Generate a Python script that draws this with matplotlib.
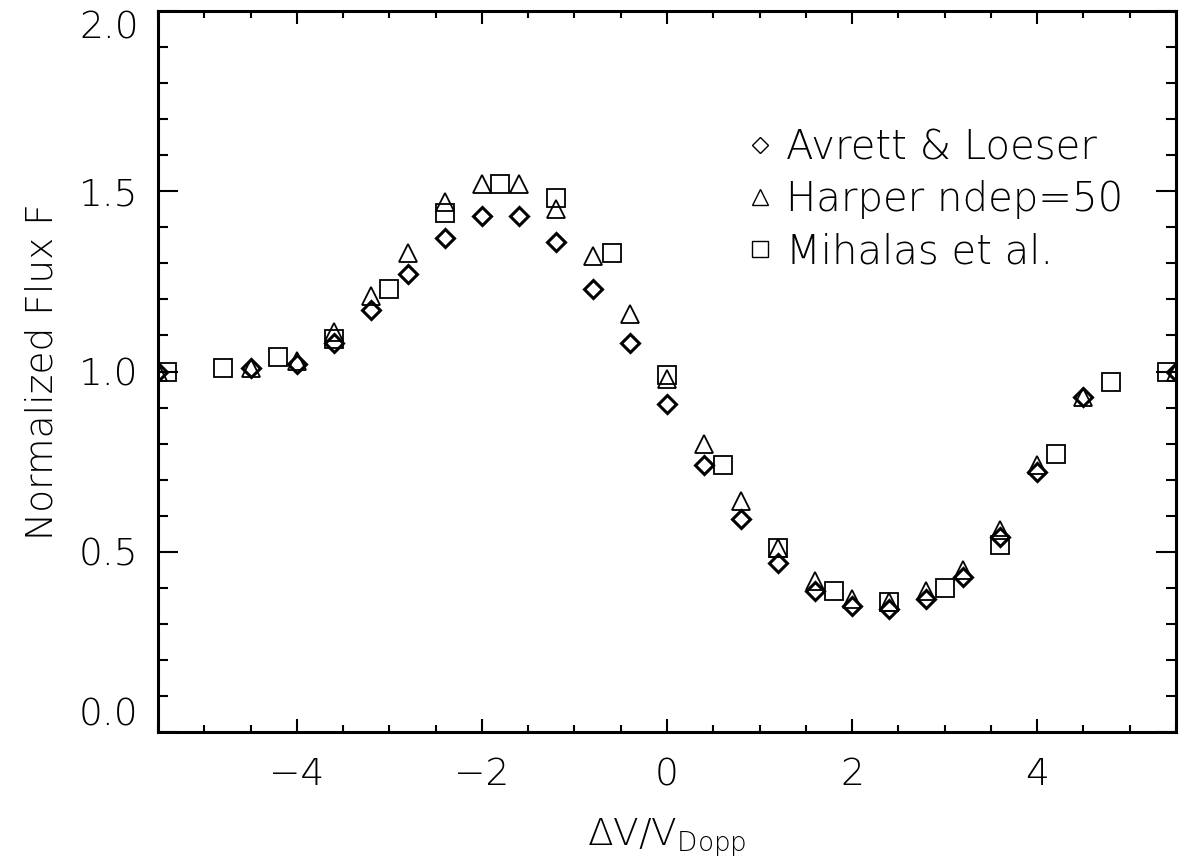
import matplotlib.pyplot as plt
from matplotlib.lines import Line2D
from matplotlib.ticker import MultipleLocator, FormatStrFormatter

plt.rcParams['font.family'] = ['DejaVu Sans']
plt.rcParams['font.weight'] = 'light'
plt.rcParams['axes.labelweight'] = 'light'
plt.rcParams['mathtext.fontset'] = 'custom'
plt.rcParams['mathtext.rm'] = 'DejaVu Sans:light'
plt.rcParams['mathtext.it'] = 'DejaVu Sans:light'

# Avrett & Loeser (diamonds)
x_al = [-5.5, -4.5, -4.0, -3.6, -3.2, -2.8, -2.4, -2.0, -1.6, -1.2, -0.8, -0.4, 0.0,
        0.4, 0.8, 1.2, 1.6, 2.0, 2.4, 2.8, 3.2, 3.6, 4.0, 4.5, 5.5]
y_al = [1.00, 1.01, 1.02, 1.08, 1.17, 1.27, 1.37, 1.43, 1.43, 1.36, 1.23, 1.08, 0.91,
        0.74, 0.59, 0.47, 0.39, 0.35, 0.34, 0.37, 0.43, 0.54, 0.72, 0.93, 1.00]

# Harper ndep=50 (triangles)
x_h = [-5.5, -4.5, -4.0, -3.6, -3.2, -2.8, -2.4, -2.0, -1.6, -1.2, -0.8, -0.4, 0.0,
       0.4, 0.8, 1.2, 1.6, 2.0, 2.4, 2.8, 3.2, 3.6, 4.0, 4.5, 5.5]
y_h = [1.00, 1.01, 1.03, 1.11, 1.21, 1.33, 1.47, 1.52, 1.52, 1.45, 1.32, 1.16, 0.98,
       0.80, 0.64, 0.51, 0.42, 0.37, 0.36, 0.39, 0.45, 0.56, 0.74, 0.93, 1.00]

# Mihalas et al. (squares)
x_m = [-5.4, -4.8, -4.2, -3.6, -3.0, -2.4, -1.8, -1.2, -0.6, 0.0, 0.6, 1.2, 1.8,
       2.4, 3.0, 3.6, 4.2, 4.8, 5.4]
y_m = [1.00, 1.01, 1.04, 1.09, 1.23, 1.44, 1.52, 1.48, 1.33, 0.99, 0.74, 0.51, 0.39,
       0.36, 0.40, 0.52, 0.77, 0.97, 1.00]

labels = ['Avrett & Loeser', 'Harper ndep=50', 'Mihalas et al.']
yticks = [0.0, 0.5, 1.0, 1.5, 2.0]
xticks = [-4, -2, 0, 2, 4]

fig = plt.figure(figsize=(11.89, 8.66), dpi=100)
ax = fig.add_axes([0.1329, 0.1547, 0.8562, 0.8326])

ax.plot(x_al, y_al, ls='none', marker='D', ms=9.2, mfc='none', mec='black', mew=2.2)
ax.plot(x_h, y_h, ls='none', marker='^', ms=13, mfc='none', mec='black', mew=1.3)
ax.plot(x_m, y_m, ls='none', marker='s', ms=13, mfc='none', mec='black', mew=1.3)

ax.set_xlim(-5.5, 5.5)
ax.set_ylim(0, 2.0)

ax.set_xticks(xticks)
ax.set_yticks(yticks)
ax.xaxis.set_minor_locator(MultipleLocator(0.5))
ax.yaxis.set_minor_locator(MultipleLocator(0.1))
ax.yaxis.set_major_formatter(FormatStrFormatter('%.1f'))

ax.tick_params(axis='x', which='major', direction='in', length=9.4, width=1.5,
               top=True, labelsize=27, pad=18)
ax.tick_params(axis='x', which='minor', direction='in', length=5, width=1.5, top=True)
ax.tick_params(axis='y', which='major', direction='in', length=14.4, width=1.5,
               right=True, labelsize=27, pad=14)
ax.tick_params(axis='y', which='minor', direction='in', length=7.2, width=1.5, right=True)
for s in ax.spines.values():
    s.set_linewidth(2.2)

# end labels sit inside the axis range, as in the original
ymaj = ax.yaxis.get_major_ticks()
ymaj[0].label1.set_va('bottom')
ymaj[-1].label1.set_va('top')

ax.set_xlabel(r'$\Delta$V/V$_{\rm Dopp}$', fontsize=27, labelpad=18)
ax.set_ylabel('Normalized Flux F', fontsize=27, labelpad=14)

handles = [
    Line2D([], [], ls='none', marker='D', ms=8, mfc='none', mec='black', mew=1.0),
    Line2D([], [], ls='none', marker='^', ms=12, mfc='none', mec='black', mew=1.0),
    Line2D([], [], ls='none', marker='s', ms=12, mfc='none', mec='black', mew=1.0),
]
ax.legend(handles, labels, loc='upper left', bbox_to_anchor=(0.552, 0.865),
          frameon=False, fontsize=29, handlelength=1.0, handletextpad=0.15,
          labelspacing=0.32, borderpad=0)

fig.savefig('out.png', dpi=100)
